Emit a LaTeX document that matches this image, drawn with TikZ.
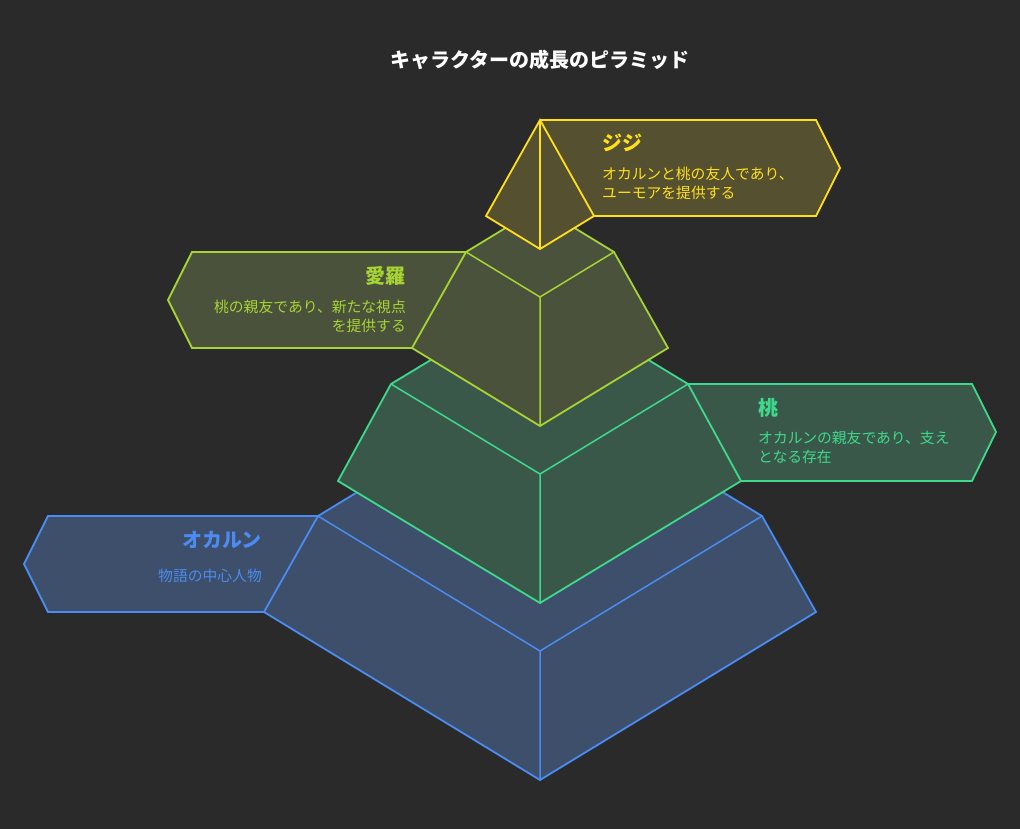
\documentclass[tikz,border=0pt]{standalone}
\usepackage{fontspec}
\setmainfont{Noto Sans CJK JP}
\definecolor{bg}{HTML}{2A2A2A}
\definecolor{bluec}{HTML}{4A8CF2}
\definecolor{bluef}{HTML}{3D4F6B}
\definecolor{greenc}{HTML}{3ED98C}
\definecolor{greenf}{HTML}{3A5849}
\definecolor{limec}{HTML}{A6D433}
\definecolor{limef}{HTML}{4B523C}
\definecolor{yelc}{HTML}{FFE019}
\definecolor{yelf}{HTML}{555030}
\tikzset{
  edge/.style={line width=1.8pt, line join=miter},
  inner/.style={line width=1.5pt},
  ttl/.style={font=\bfseries\fontsize{20}{24}\selectfont, inner sep=0pt},
  dsc/.style={font=\fontsize{14.8}{19}\selectfont, inner sep=0pt},
}
\begin{document}
\begin{tikzpicture}[x=1pt,y=-1pt]
\fill[bg] (0,0) rectangle (1020,829);
\useasboundingbox (0,0) rectangle (1020,829);

\node[font=\bfseries\fontsize{20}{24}\selectfont, text=white, inner sep=0pt] (title) at (540,60) {キャラクターの成長のピラミッド};

% ---------- blue level ----------
\coordinate (bL) at (318,516); \coordinate (bB) at (540,381); \coordinate (bR) at (762,516);
\coordinate (bF) at (540,651); \coordinate (bBL) at (264,612); \coordinate (bBR) at (816,612);
\coordinate (bBF) at (540,780);
\coordinate (bx1) at (48,516); \coordinate (bx2) at (24,564); \coordinate (bx3) at (48,612);
\fill[bluef] (bL) -- (bx1) -- (bx2) -- (bx3) -- (bBL) -- cycle;
\draw[bluec, edge] (bL) -- (bx1) -- (bx2) -- (bx3) -- (bBL);
\filldraw[fill=bluef, draw=bluec, edge] (bL) -- (bB) -- (bR) -- (bBR) -- (bBF) -- (bBL) -- cycle;
\draw[bluec, inner] (bL) -- (bF) -- (bR) (bF) -- (bBF);

% ---------- green level ----------
\coordinate (gL) at (391,384); \coordinate (gB) at (540,294); \coordinate (gR) at (688,384);
\coordinate (gF) at (540,474); \coordinate (gBL) at (338,481); \coordinate (gBR) at (741,481);
\coordinate (gBF) at (540,603);
\coordinate (gx1) at (972,384); \coordinate (gx2) at (996,432); \coordinate (gx3) at (972,481);
\fill[greenf] (gR) -- (gx1) -- (gx2) -- (gx3) -- (gBR) -- cycle;
\draw[greenc, edge] (gR) -- (gx1) -- (gx2) -- (gx3) -- (gBR);
\filldraw[fill=greenf, draw=greenc, edge] (gL) -- (gB) -- (gR) -- (gBR) -- (gBF) -- (gBL) -- cycle;
\draw[greenc, inner] (gL) -- (gF) -- (gR) (gF) -- (gBF);

% ---------- lime level ----------
\coordinate (yL) at (466,252); \coordinate (yB) at (540,207); \coordinate (yR) at (614,252);
\coordinate (yF) at (540,297); \coordinate (yBL) at (412,348); \coordinate (yBR) at (668,348);
\coordinate (yBF) at (540,426);
\coordinate (yx1) at (192,252); \coordinate (yx2) at (168,300); \coordinate (yx3) at (192,348);
\fill[limef] (yL) -- (yx1) -- (yx2) -- (yx3) -- (yBL) -- cycle;
\draw[limec, edge] (yL) -- (yx1) -- (yx2) -- (yx3) -- (yBL);
\filldraw[fill=limef, draw=limec, edge] (yL) -- (yB) -- (yR) -- (yBR) -- (yBF) -- (yBL) -- cycle;
\draw[limec, inner] (yL) -- (yF) -- (yR) (yF) -- (yBF);

% ---------- yellow top ----------
\coordinate (tA) at (540,120); \coordinate (tL) at (486,216); \coordinate (tR) at (594,216);
\coordinate (tF) at (540,249);
\coordinate (tx1) at (816,120); \coordinate (tx2) at (840,168); \coordinate (tx3) at (816,216);
\fill[yelf] (tA) -- (tx1) -- (tx2) -- (tx3) -- (tR) -- cycle;
\draw[yelc, edge] (tA) -- (tx1) -- (tx2) -- (tx3) -- (tR);
\filldraw[fill=yelf, draw=yelc, edge] (tA) -- (tR) -- (tF) -- (tL) -- cycle;
\draw[yelc, inner] (tA) -- (tF);

% ---------- texts ----------
\node[ttl, text=yelc, anchor=west] (jiji) at (602,143) {ジジ};
\node[dsc, text=yelc, anchor=north west, align=left] (jijid) at (602,167) {オカルンと桃の友人であり、\\ユーモアを提供する};

\node[ttl, text=limec, anchor=east] (aira) at (406,276) {愛羅};
\node[dsc, text=limec, anchor=north east, align=right] (airad) at (406,300) {桃の親友であり、新たな視点\\を提供する};

\node[ttl, text=greenc, anchor=west] (momo) at (758,408) {桃};
\node[dsc, text=greenc, anchor=north west, align=left] (momod) at (758,431) {オカルンの親友であり、支え\\となる存在};

\node[ttl, text=bluec, anchor=east] (okarun) at (262,540) {オカルン};
\node[dsc, text=bluec, anchor=east] (okarund) at (262,576) {物語の中心人物};
\end{tikzpicture}
\end{document}
